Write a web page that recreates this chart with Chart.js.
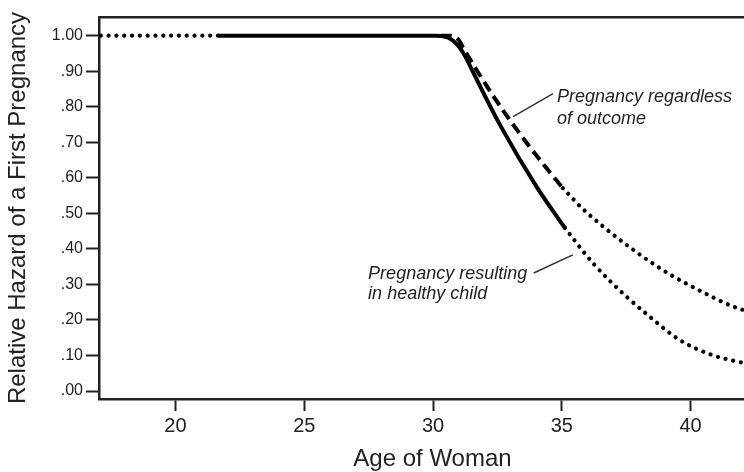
<!DOCTYPE html>
<html>
<head>
<meta charset="utf-8">
<script src="https://cdn.jsdelivr.net/npm/chart.js@4.4.1/dist/chart.umd.min.js"></script>
<style>
  html, body { margin: 0; padding: 0; background: #fff; overflow: hidden; width: 744px; height: 472px; }
  canvas { display: block; }
</style>
</head>
<body>
<canvas id="chartCanvas" width="766" height="472" style="width:766px;height:472px"></canvas>
<script>
// values (age in years, relative hazard)
const earlyAges = [17.1, 21.67];
const earlyHazard = [1, 1];

const healthyAges = [21.67, 30.15, 30.6, 30.95, 31.25, 31.55, 32.6, 34.03, 35.12];
const healthyHazard = [1, 1, 0.994, 0.974, 0.942, 0.898, 0.749, 0.574, 0.459];
const healthyLateAges = [35.12, 36.21, 37.52, 38.29, 39.57, 40.85, 42.05];
const healthyLateHazard = [0.459, 0.36, 0.265, 0.217, 0.144, 0.101, 0.079];

const anyAges = [30.3, 30.65, 30.97, 31.2, 31.74, 32.36, 32.98, 33.64, 34.34, 35.04];
const anyHazard = [1, 1, 0.99, 0.962, 0.898, 0.828, 0.763, 0.698, 0.633, 0.571];
const anyLateAges = [35.04, 35.78, 36.59, 37.52, 38.8, 40.08, 41.78, 42.05];
const anyLateHazard = [0.571, 0.515, 0.464, 0.411, 0.346, 0.293, 0.234, 0.228];

const xTicks = [20, 25, 30, 35, 40];
const xTickLabels = ['20', '25', '30', '35', '40'];
const yTicks = [0, 0.1, 0.2, 0.3, 0.4, 0.5, 0.6, 0.7, 0.8, 0.9, 1];
const yTickLabels = ['.00', '.10', '.20', '.30', '.40', '.50', '.60', '.70', '.80', '.90', '1.00'];

const FONT = '"Liberation Sans", Arial, Helvetica, sans-serif';
const INK = '#222';

function pts(xs, ys) {
  return xs.map((x, i) => ({ x: x, y: ys[i] }));
}

const dotted = { borderDash: [0.01, 7.8], borderCapStyle: 'round', borderWidth: 4.2 };

function line(xs, ys, style) {
  return Object.assign({
    data: pts(xs, ys),
    borderColor: '#000',
    borderWidth: 4,
    pointRadius: 0,
    fill: false,
    cubicInterpolationMode: 'monotone'
  }, style);
}

// callout labels, placed in data units
const notes = [
  { lines: ['Pregnancy regardless', 'of outcome'], x: 34.81, y: [0.827, 0.765], from: [33.11, 0.772], to: [34.66, 0.837] },
  { lines: ['Pregnancy resulting', 'in healthy child'], x: 27.48, y: [0.329, 0.273], from: [35.43, 0.383], to: [33.91, 0.332] }
];

const notePlugin = {
  id: 'notes',
  afterDatasetsDraw(chart) {
    const { ctx, scales: { x, y } } = chart;
    ctx.save();
    ctx.fillStyle = INK;
    ctx.strokeStyle = '#333';
    ctx.lineWidth = 1.5;
    ctx.font = 'italic 18px ' + FONT;
    ctx.textBaseline = 'middle';
    ctx.textAlign = 'left';
    notes.forEach(n => {
      n.lines.forEach((t, i) => ctx.fillText(t, x.getPixelForValue(n.x), y.getPixelForValue(n.y[i])));
      ctx.beginPath();
      ctx.moveTo(x.getPixelForValue(n.from[0]), y.getPixelForValue(n.from[1]));
      ctx.lineTo(x.getPixelForValue(n.to[0]), y.getPixelForValue(n.to[1]));
      ctx.stroke();
    });
    ctx.restore();
  }
};

const ctx = document.getElementById('chartCanvas').getContext('2d');
new Chart(ctx, {
  type: 'line',
  data: {
    datasets: [
      line(earlyAges, earlyHazard, dotted),
      line(healthyAges, healthyHazard, { borderCapStyle: 'butt' }),
      line(healthyLateAges, healthyLateHazard, dotted),
      line(anyAges, anyHazard, { borderDash: [11, 6], borderCapStyle: 'butt' }),
      line(anyLateAges, anyLateHazard, dotted)
    ]
  },
  options: {
    responsive: false,
    animation: false,
    layout: { padding: { top: 17, right: 0, left: 0, bottom: 0 } },
    plugins: { legend: { display: false }, tooltip: { enabled: false } },
    scales: {
      x: {
        type: 'linear',
        min: 17.03,
        max: 42.93,
        afterFit: s => { s.height = 73; },
        afterBuildTicks: s => { s.ticks = xTicks.map(v => ({ value: v })); },
        ticks: {
          callback: (v, i) => xTickLabels[i],
          color: INK,
          font: { family: FONT, size: 20 },
          padding: 3,
          maxRotation: 0
        },
        grid: { drawOnChartArea: false, tickLength: 12, tickWidth: 2, tickColor: INK },
        border: { color: INK, width: 2.5 },
        title: {
          display: true,
          text: 'Age of Woman',
          color: INK,
          font: { family: FONT, size: 24, lineHeight: 1 },
          padding: { top: 0, bottom: 1 }
        }
      },
      top: {
        type: 'linear',
        position: 'top',
        min: 0,
        max: 1,
        afterFit: s => { s.height = 0; },
        ticks: { display: false },
        grid: { display: false, drawTicks: false },
        border: { display: true, color: INK, width: 2.5 }
      },
      y: {
        min: -0.0225,
        max: 1.0526,
        afterFit: s => { s.width = 99; },
        afterBuildTicks: s => { s.ticks = yTicks.map(v => ({ value: v })); },
        ticks: {
          callback: (v, i) => yTickLabels[i],
          color: INK,
          font: { family: FONT, size: 16 },
          padding: 3
        },
        grid: { drawOnChartArea: false, tickLength: 13, tickWidth: 2, tickColor: INK },
        border: { color: INK, width: 2.5 },
        title: {
          display: true,
          text: 'Relative Hazard of a First Pregnancy',
          color: INK,
          font: { family: FONT, size: 24, lineHeight: 1 },
          padding: { top: 6, bottom: 0 }
        }
      }
    }
  },
  plugins: [notePlugin]
});
</script>
</body>
</html>
